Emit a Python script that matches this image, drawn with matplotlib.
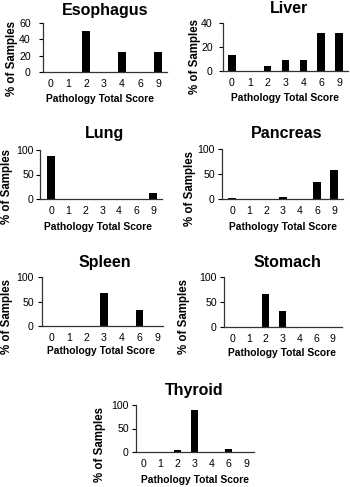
import numpy as np
import matplotlib
matplotlib.use('Agg')
from matplotlib import pyplot as plt

plt.rcParams['font.family'] = ['Liberation Sans', 'DejaVu Sans']

scores = ['0', '1', '2', '3', '4', '6', '9']

esophagus = [0, 0, 50, 0, 25, 0, 25]
liver = [13.3, 0, 4.4, 8.9, 8.9, 31.8, 31.8]
lung = [88, 0, 0, 0, 0, 0, 12]
pancreas = [2, 0, 0, 4, 0, 35, 59]
spleen = [0, 0, 0, 67, 0, 33, 0]
stomach = [0, 0, 67, 33, 0, 0, 0]
thyroid = [0, 0, 3.4, 89.7, 0, 6.9, 0]

organs = ['Esophagus', 'Liver', 'Lung', 'Pancreas', 'Spleen', 'Stomach', 'Thyroid']
values = [esophagus, liver, lung, pancreas, spleen, stomach, thyroid]
ymax = [60, 40, 100, 100, 100, 100, 100]
yticks = [[0, 20, 40, 60], [0, 20, 40], [0, 50, 100], [0, 50, 100],
          [0, 50, 100], [0, 50, 100], [0, 50, 100]]

# layout in pixels (the panels were pasted together, so each one differs a bit)
# plot box: left, right, top, bottom
boxes = [(43, 167, 23, 72), (223, 348, 23, 71),
         (40, 162, 150, 199), (222, 343, 149, 199),
         (42, 163, 277, 326), (224, 342, 277, 327),
         (136, 254, 405, 452)]
xlims = [(-0.39, 6.5), (-0.5, 6.5), (-0.65, 6.53), (-0.59, 6.53),
         (-0.51, 6.34), (-0.48, 6.54), (-0.41, 6.47)]
ygap = [11, 9, 5, 6, 7, 6, 6]
title_xy = [(105, 15), (289, 13), (105, 138), (287, 138),
            (105, 267), (287, 267), (194, 395)]
ylab_xy = [(12, 58), (195, 57), (7, 186), (190, 189),
           (7, 316), (184, 316), (100, 445)]
xlab_xy = [(100, 102), (285, 101), (98, 230), (283, 230),
           (101, 354), (282, 356), (195, 483)]

W, H = 350, 487
fig = plt.figure(figsize=(W/100, H/100), dpi=100)

def fx(px):
    return px / W

def fy(py):
    return 1 - py / H

for i, (name, v) in enumerate(zip(organs, values)):
    l, r, t, b = boxes[i]
    ax = fig.add_axes([fx(l), fy(b), (r-l)/W, (b-t)/H])
    x = np.arange(len(scores))
    ax.bar(x, v, width=0.42, color='black')
    ax.set_xlim(*xlims[i])
    ax.set_ylim(0, ymax[i])
    ax.set_yticks(yticks[i])
    ax.set_xticks(x)
    ax.set_xticklabels(scores)
    ax.tick_params(axis='x', length=0, labelsize=7.6, pad=5)
    ax.tick_params(axis='y', length=3, width=0.8, labelsize=7.6,
                   pad=(ygap[i] - 3) * 0.72, colors='black')
    for s in ['top', 'right']:
        ax.spines[s].set_visible(False)
    for s in ['left', 'bottom']:
        ax.spines[s].set_linewidth(0.9)
        ax.spines[s].set_color('#333333')

    fig.text(fx(title_xy[i][0]), fy(title_xy[i][1]), name, fontsize=11.5,
             fontweight='bold', ha='center', va='baseline')
    ax.set_xlabel('Pathology Total Score', fontsize=7.4, fontweight='bold', va='baseline')
    ax.xaxis.set_label_coords(fx(xlab_xy[i][0]), fy(xlab_xy[i][1]), transform=fig.transFigure)
    ax.set_ylabel('% of Samples', fontsize=8.3, fontweight='bold', va='center')
    ax.yaxis.set_label_coords(fx(ylab_xy[i][0]), fy(ylab_xy[i][1]), transform=fig.transFigure)

plt.savefig('out.png', dpi=100)
